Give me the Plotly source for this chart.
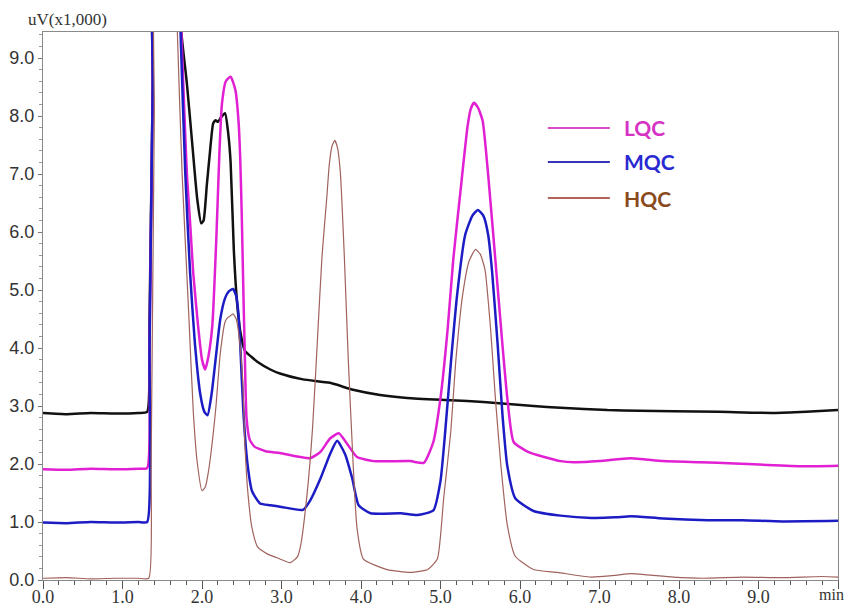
import plotly.graph_objects as go

# ---------------- data (retention time in min, signal in uV x1,000) ----------------
black_x = [0.0, 0.3, 0.6, 0.9, 1.2, 1.31, 1.34, 1.38, 1.42, 1.70, 1.74, 1.81, 1.88, 1.94, 1.99, 2.02,
           2.06, 2.10, 2.14, 2.17, 2.20, 2.24, 2.29, 2.33, 2.36, 2.40, 2.44, 2.48, 2.54, 2.62, 2.70,
           2.86, 2.98, 3.27, 3.61, 3.90, 4.24, 4.58, 5.13, 5.54, 6.17, 6.51, 7.10, 7.50, 7.93, 8.50,
           9.19, 9.60, 10.0]
black_y = [2.88, 2.86, 2.88, 2.87, 2.88, 2.90, 4.5, 8.5, 11.0, 11.0, 9.45, 8.56, 7.48, 6.57, 6.15, 6.2,
           6.8, 7.38, 7.87, 7.93, 7.90, 7.98, 8.05, 7.7, 7.2, 5.7, 4.8, 4.3, 3.95, 3.85, 3.76,
           3.63, 3.56, 3.46, 3.40, 3.28, 3.19, 3.14, 3.10, 3.07, 3.00, 2.97, 2.93, 2.92, 2.91, 2.90,
           2.88, 2.90, 2.93]

lqc_x = [0.0, 0.3, 0.6, 0.9, 1.2, 1.31, 1.34, 1.38, 1.42, 1.70, 1.74, 1.78, 1.81, 1.85, 1.89, 1.95,
         2.00, 2.04, 2.08, 2.13, 2.18, 2.22, 2.25, 2.30, 2.36, 2.42, 2.46, 2.48, 2.50, 2.52, 2.54,
         2.56, 2.60, 2.66, 2.80, 2.98, 3.36, 3.49, 3.61, 3.72, 3.84, 3.95, 4.16, 4.62, 4.79, 4.91,
         5.00, 5.09, 5.16, 5.25, 5.34, 5.38, 5.42, 5.47, 5.53, 5.60, 5.69, 5.78, 5.84, 5.92, 6.10,
         6.51, 6.68, 7.00, 7.39, 7.80, 8.27, 8.70, 9.19, 9.60, 10.0]
lqc_y = [1.91, 1.90, 1.92, 1.91, 1.92, 1.93, 4.0, 8.5, 11.0, 11.0, 9.45, 8.0, 7.0, 6.17, 5.29, 4.39,
         3.8, 3.63, 3.85, 4.39, 5.88, 7.4, 8.2, 8.6, 8.68, 8.45, 7.9, 7.3, 6.3, 5.0, 3.8,
         2.8, 2.42, 2.30, 2.22, 2.19, 2.10, 2.21, 2.44, 2.53, 2.32, 2.12, 2.05, 2.05, 2.02, 2.38,
         3.14, 4.33, 5.52, 6.69, 7.82, 8.12, 8.23, 8.15, 7.92, 6.98, 5.52, 4.04, 3.14, 2.38, 2.21,
         2.05, 2.03, 2.05, 2.10, 2.05, 2.03, 2.01, 1.98, 1.96, 1.97]

mqc_x = [0.0, 0.3, 0.6, 0.9, 1.2, 1.31, 1.34, 1.38, 1.42, 1.70, 1.73, 1.79, 1.85, 1.91, 1.98, 2.03,
         2.07, 2.12, 2.17, 2.23, 2.29, 2.34, 2.39, 2.43, 2.46, 2.48, 2.52, 2.57, 2.63, 2.73, 2.86,
         3.00, 3.27, 3.36, 3.49, 3.61, 3.70, 3.80, 3.89, 3.97, 4.12, 4.50, 4.71, 4.91, 5.00, 5.06,
         5.13, 5.21, 5.31, 5.40, 5.47, 5.54, 5.60, 5.65, 5.72, 5.78, 5.84, 5.94, 6.17, 6.51, 6.90,
         7.20, 7.39, 7.80, 8.36, 8.80, 9.30, 10.0]
mqc_y = [0.99, 0.98, 1.00, 0.99, 1.00, 1.00, 4.0, 8.5, 11.0, 11.0, 9.45, 7.0, 5.3, 4.09, 3.19, 2.9,
         2.84, 3.2, 3.79, 4.5, 4.86, 4.98, 5.02, 4.9, 4.57, 4.09, 2.91, 2.03, 1.53, 1.32, 1.29,
         1.26, 1.21, 1.37, 1.75, 2.17, 2.40, 2.17, 1.75, 1.29, 1.15, 1.15, 1.12, 1.20, 1.71, 2.57,
         3.74, 4.93, 5.95, 6.28, 6.38, 6.28, 5.95, 5.30, 4.04, 2.84, 1.97, 1.41, 1.19, 1.11, 1.07,
         1.08, 1.10, 1.06, 1.03, 1.03, 1.01, 1.02]

hqc_x = [0.0, 0.3, 0.6, 0.9, 1.2, 1.33, 1.36, 1.40, 1.44, 1.66, 1.69, 1.75, 1.83, 1.89, 1.94, 2.00,
         2.04, 2.08, 2.17, 2.23, 2.29, 2.32, 2.35, 2.39, 2.43, 2.46, 2.51, 2.54, 2.58, 2.63, 2.70,
         2.82, 2.95, 3.11, 3.20, 3.24, 3.32, 3.39, 3.45, 3.51, 3.57, 3.60, 3.635, 3.67, 3.705, 3.74,
         3.79, 3.84, 3.90, 3.95, 4.03, 4.33, 4.62, 4.84, 4.96, 5.04, 5.13, 5.19, 5.28, 5.36, 5.44,
         5.50, 5.56, 5.63, 5.69, 5.76, 5.84, 5.94, 6.17, 6.47, 6.89, 7.20, 7.39, 7.60, 7.93, 8.30,
         8.80, 9.30, 9.80, 10.0]
hqc_y = [0.03, 0.04, 0.02, 0.03, 0.03, 0.03, 2.0, 8.0, 11.0, 11.0, 9.45, 7.0, 4.68, 2.91, 2.03, 1.54,
         1.60, 1.86, 2.91, 3.91, 4.45, 4.52, 4.55, 4.59, 4.50, 4.27, 3.49, 2.32, 1.46, 0.89, 0.57,
         0.45, 0.38, 0.30, 0.40, 0.59, 1.46, 2.61, 4.09, 5.59, 6.60, 7.15, 7.48, 7.58, 7.45, 7.03,
         5.59, 3.80, 2.03, 0.89, 0.36, 0.18, 0.13, 0.18, 0.36, 1.41, 2.57, 3.74, 4.93, 5.50, 5.70,
         5.62, 5.35, 4.33, 3.14, 1.97, 0.95, 0.41, 0.18, 0.13, 0.05, 0.08, 0.11, 0.09, 0.05, 0.03,
         0.05, 0.04, 0.06, 0.05]

x_tick_vals = [0, 1, 2, 3, 4, 5, 6, 7, 8, 9, 10]
x_tick_text = ["0.0", "1.0", "2.0", "3.0", "4.0", "5.0", "6.0", "7.0", "8.0", "9.0", ""]
x_unit = "min"
y_tick_vals = [0, 1, 2, 3, 4, 5, 6, 7, 8, 9]
y_tick_text = ["0.0", "1.0", "2.0", "3.0", "4.0", "5.0", "6.0", "7.0", "8.0", "9.0"]
y_unit = "uV(x1,000)"

legend_names = ["LQC", "MQC", "HQC"]
legend_text_colors = ["#d633c4", "#2a2ad2", "#8a4a1c"]
legend_line_colors = ["#d84cc8", "#3434b8", "#b0645a"]

# ---------------- figure ----------------
fig = go.Figure()
line_kw = dict(shape="spline", smoothing=0.5)
fig.add_trace(go.Scatter(x=black_x, y=black_y, mode="lines", showlegend=False,
                         line=dict(color="#111111", width=2.5, **line_kw)))
fig.add_trace(go.Scatter(x=lqc_x, y=lqc_y, mode="lines", name="LQC", showlegend=False,
                         line=dict(color="#e020d2", width=2.5, **line_kw)))
fig.add_trace(go.Scatter(x=mqc_x, y=mqc_y, mode="lines", name="MQC", showlegend=False,
                         line=dict(color="#1c1cc4", width=2.5, **line_kw)))
fig.add_trace(go.Scatter(x=hqc_x, y=hqc_y, mode="lines", name="HQC", showlegend=False,
                         line=dict(color="#a0625c", width=1.2, **line_kw)))

# manual legend (line sample + coloured bold label)
leg_y = [0.825, 0.763, 0.697]
for name, tc, lc, ly in zip(legend_names, legend_text_colors, legend_line_colors, leg_y):
    fig.add_shape(type="line", xref="paper", yref="paper", x0=0.635, x1=0.713, y0=ly, y1=ly,
                  line=dict(color=lc, width=2))
    fig.add_annotation(xref="paper", yref="paper", x=0.728, y=ly, text="<b>%s</b>" % name,
                       showarrow=False, xanchor="left", yanchor="middle",
                       font=dict(family="Lato, Open Sans, sans-serif", size=21, color=tc))

fig.add_annotation(xref="paper", yref="paper", x=-0.021, y=1.0, text=y_unit,
                   showarrow=False, xanchor="left", yanchor="bottom", yshift=1,
                   font=dict(family="Liberation Serif, Times New Roman, serif", size=17, color="#333333"))
fig.add_annotation(xref="paper", yref="paper", x=1.0105, y=-0.027, text=x_unit,
                   showarrow=False, xanchor="right", yanchor="middle",
                   font=dict(family="Liberation Serif, Times New Roman, serif", size=16, color="#333333"))

fig.update_layout(
    width=848, height=610,
    margin=dict(l=43, r=10, t=32, b=30, autoexpand=False),
    paper_bgcolor="white", plot_bgcolor="white",
    xaxis=dict(range=[0, 10], tickvals=x_tick_vals, ticktext=x_tick_text, automargin=False,
               showgrid=False, zeroline=False, showline=True, mirror=True,
               linecolor="#8a8a8a", linewidth=1.2, ticks="outside", ticklen=8,
               tickcolor="#555555", tickwidth=1, ticklabelstandoff=-8,
               minor=dict(dtick=0.2, ticks="outside", ticklen=4, tickcolor="#555555", showgrid=False),
               tickfont=dict(family="Liberation Serif, Times New Roman, serif", size=18, color="#333333")),
    yaxis=dict(range=[0, 9.45], tickvals=y_tick_vals, ticktext=y_tick_text, automargin=False,
               showgrid=False, zeroline=False, showline=True, mirror=True,
               linecolor="#8a8a8a", linewidth=1.2, ticks="outside", ticklen=4,
               tickcolor="#777777", tickwidth=1,
               minor=dict(dtick=0.2, ticks="outside", ticklen=3, tickcolor="#999999", showgrid=False),
               tickfont=dict(family="Liberation Sans, Arial, sans-serif", size=18, color="#333333")),
)

fig.write_html("out.html")
